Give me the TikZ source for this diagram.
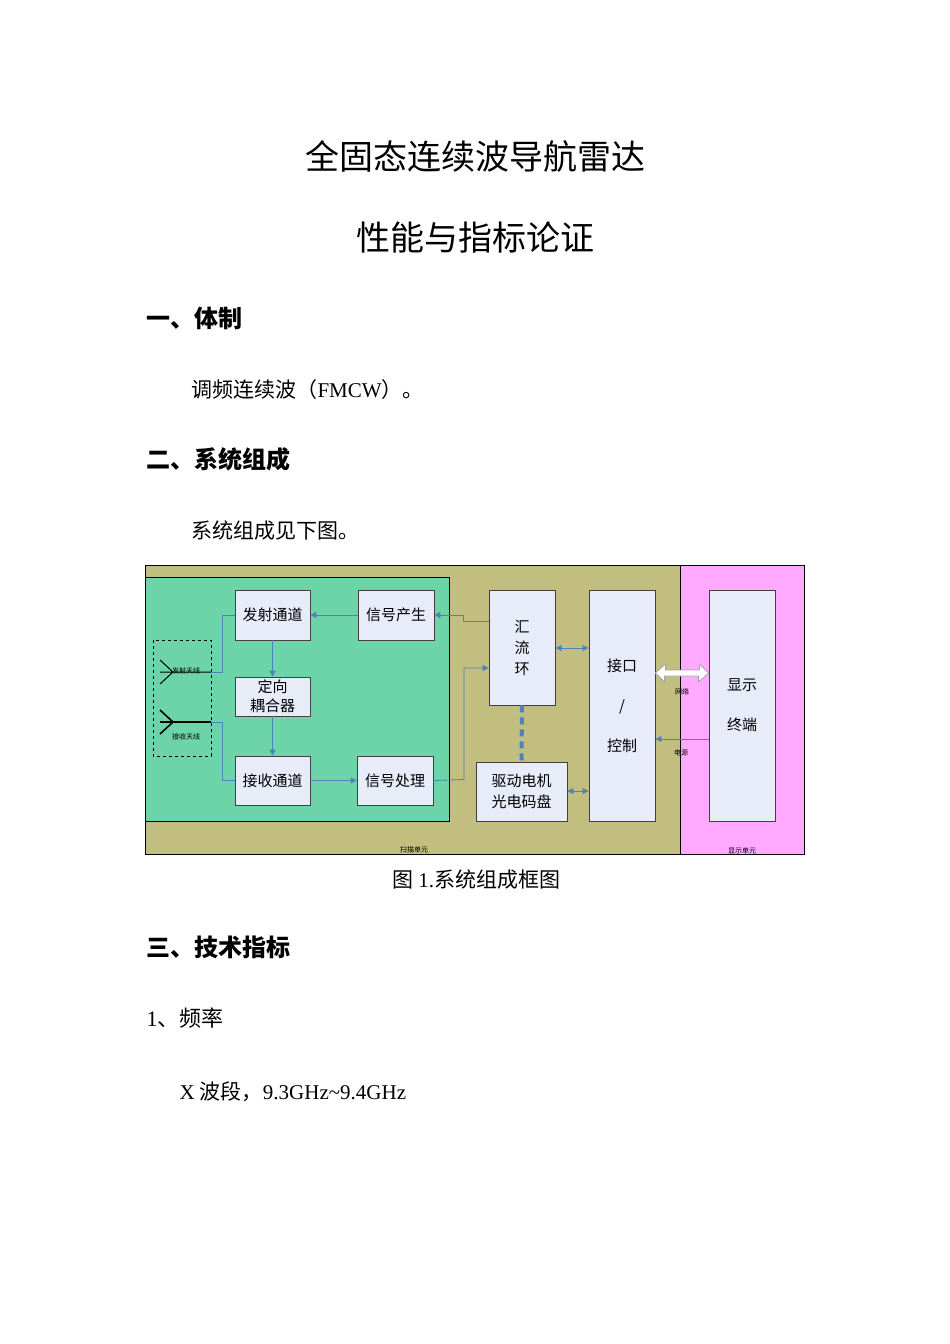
\documentclass[tikz,border=0pt]{standalone}
\usepackage{fontspec}
\setmainfont{Liberation Serif}
\newfontfamily\cjk{Noto Sans CJK SC}
\usetikzlibrary{arrows.meta}
\definecolor{olive}{RGB}{193,190,128}
\definecolor{grn}{RGB}{108,212,168}
\definecolor{pnk}{RGB}{255,170,255}
\definecolor{bx}{RGB}{232,236,248}
\definecolor{ab}{RGB}{79,129,189}
\begin{document}
\begin{tikzpicture}[x=1pt,y=-1pt,
  blk/.style={draw=black!75,fill=bx,line width=0.8pt},
  bt/.style={font=\cjk\fontsize{15}{18}\selectfont,align=center},
  conn/.style={draw=ab,line width=0.8pt},
  arr/.style={conn,-{Triangle[length=6pt,width=6pt]}},
  darr/.style={conn,{Triangle[length=6pt,width=6pt]}-{Triangle[length=6pt,width=6pt]}},
  tiny/.style={font=\cjk\fontsize{7}{8}\selectfont}]
\useasboundingbox[fill=white] (0,0) rectangle (950,1344);
\node (t1) at (475,157) {\cjk\fontsize{34}{38}\selectfont 全固态连续波导航雷达};
\node (t2) at (475,238) {\cjk\fontsize{34}{38}\selectfont 性能与指标论证};
\node[anchor=west] (h1) at (143,318) {\cjk\bfseries\fontsize{24}{28}\selectfont 一、体制};
\node[anchor=west] (p1) at (188,390) {\fontsize{21}{24}\selectfont{\cjk 调频连续波（}FMCW{\cjk ）。}};
\node[anchor=west] (h2) at (143,459) {\cjk\bfseries\fontsize{24}{28}\selectfont 二、系统组成};
\node[anchor=west] (p2) at (188,531) {\cjk\fontsize{21}{24}\selectfont 系统组成见下图。};
% diagram
\fill[olive] (145,565) rectangle (680,854);
\fill[pnk] (680,565) rectangle (804,854);
\draw[black,line width=0.8pt] (145,565) rectangle (804,854) (680,565)--(680,854);
\draw[fill=grn,line width=0.8pt] (145,577) rectangle (449,821);
\draw[dashed,line width=0.7pt] (153,640) rectangle (211,756);
\node[blk,bt,minimum width=75pt,minimum height=50pt] (fs) at (272.5,615) {发射通道};
\node[blk,bt,minimum width=76pt,minimum height=50pt] (xc) at (396,615) {信号产生};
\node[blk,bt,minimum width=75pt,minimum height=39pt,inner sep=0pt,font=\cjk\fontsize{15}{19}\selectfont] (dx) at (272.5,696.5) {定向\\耦合器};
\node[blk,bt,minimum width=75pt,minimum height=49pt] (js) at (272.5,780.5) {接收通道};
\node[blk,bt,minimum width=76pt,minimum height=49pt] (xcl) at (395,780.5) {信号处理};
\node[blk,bt,minimum width=66pt,minimum height=115pt,font=\cjk\fontsize{15}{21}\selectfont] (hl) at (522,647.5) {汇\\流\\环};
\node[blk,bt,minimum width=66pt,minimum height=231pt,font=\cjk\fontsize{15}{40}\selectfont] (jk) at (622,705.5) {接口\\/\\控制};
\node[blk,bt,minimum width=91pt,minimum height=59pt,font=\cjk\fontsize{15}{21}\selectfont] (qd) at (521.5,791.5) {驱动电机\\光电码盘};
\node[blk,bt,minimum width=66pt,minimum height=231pt,font=\cjk\fontsize{15}{40}\selectfont] (xs) at (742,705.5) {显示\\终端};
% antennas
\coordinate (a1) at (173,672); \coordinate (a2) at (173,722);
\draw[line width=1pt] (160,660)--(a1)--(160,684) (160,672)--(211,672);
\draw[line width=1.6pt] (160,710)--(a2)--(160,734) (160,722)--(211,722);
\node[tiny,anchor=west,inner sep=0pt] (l1) at (172,671) {发射天线};
\node[tiny,anchor=west,inner sep=0pt] (l2) at (172,737) {接收天线};
\coordinate (e1) at (211,672); \coordinate (e2) at (211,722);
\draw[conn] (e1) -- (222,672) |- (fs.west);
\draw[conn] (e2) -- (222,722) |- (js.west);
\draw[arr] (xc) -- (fs);
\draw[arr] (hl.west |- 0,621) -- (463,621) |- (xc.east);
\draw[arr] (fs) -- (dx);
\draw[arr] (dx) -- (js);
\draw[arr] (js) -- (xcl);
\draw[arr] (xcl.east) -- (464,779.5) |- (hl.west |- 0,668);
\draw[darr] (hl.east |- 0,648) -- (jk.west |- 0,648);
\draw[darr] (qd.east |- 0,791) -- (jk.west |- 0,791);
\draw[ab,line width=4pt,dash pattern=on 7pt off 5pt] (hl.south) -- (qd.north);
\draw[fill=white,draw=gray!70,line width=0.8pt]
  (jk.east |- 0,673) -- ++(10,-9) -- ++(0,6) -- ++(34,0) -- ++(0,-6) -- (xs.west |- 0,673)
  -- ++(-10,9) -- ++(0,-6) -- ++(-34,0) -- ++(0,6) -- cycle;
\draw[arr] (xs.west |- 0,739) -- (jk.east |- 0,739);
\node[tiny] (nw) at (682,692) {网络};
\node[tiny] (dy) at (681,753) {电源};
\node[tiny] (sm) at (414,850) {扫描单元};
\node[tiny] (xd) at (742,851) {显示单元};
\node (cap) at (476,880) {\fontsize{21}{24}\selectfont{\cjk 图} 1.{\cjk 系统组成框图}};
\node[anchor=west] (h3) at (143,947) {\cjk\bfseries\fontsize{24}{28}\selectfont 三、技术指标};
\node[anchor=west] (p3) at (143,1018) {\fontsize{22}{26}\selectfont 1{\cjk 、频率}};
\node[anchor=west] (p4) at (176,1092) {\fontsize{21}{24}\selectfont X {\cjk 波段，}9.3GHz\textasciitilde 9.4GHz};
\end{tikzpicture}
\end{document}
